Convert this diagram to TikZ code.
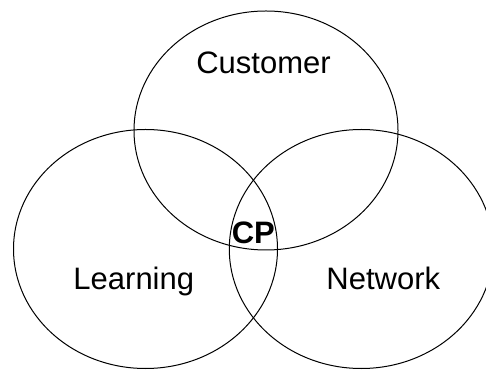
\documentclass[tikz,border=0pt]{standalone}
\usepackage{fontspec}
\setmainfont{Liberation Sans}
\usetikzlibrary{shapes.geometric}

\begin{document}
\begin{tikzpicture}[x=1pt,y=1pt,
    area/.style ={ellipse, draw, line width=1pt, inner sep=0pt, minimum width=264pt, minimum height=239pt},
    setlabel/.style ={anchor=base, inner sep=0pt, font=\fontsize{31}{36}\selectfont}]
   \useasboundingbox (0,0) rectangle (486,369);
   \clip (0,0) rectangle (486,369);
   \node[area] (cust) at (266,238.5) {};
   \node[area] (learn) at (145.5,120) {};
   \node[area] (net) at (361.3,120) {};
   \node[setlabel] (custlbl) at (263.5,295) {Customer};
   \node[setlabel] (learnlbl) at (133.8,79.7) {Learning};
   \node[setlabel] (netlbl) at (383.3,79.7) {Network};
   \node[setlabel,font=\fontsize{31}{36}\selectfont\bfseries] (cp) at (253.3,125.7) {CP};
 \end{tikzpicture}
\end{document}
